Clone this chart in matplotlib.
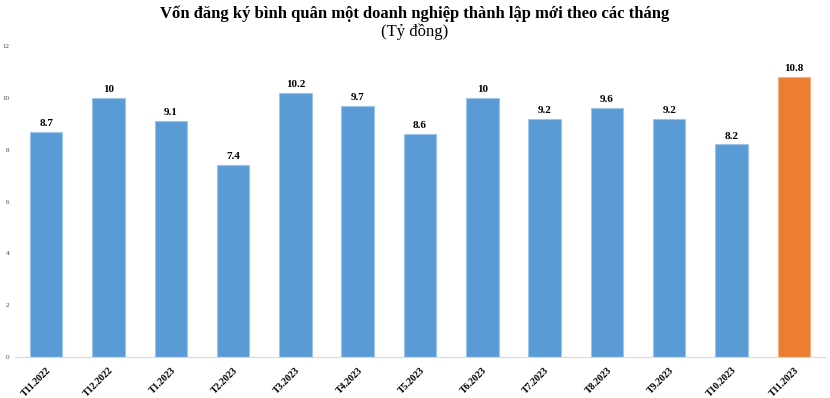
import matplotlib
matplotlib.use("Agg")
import matplotlib.pyplot as plt

categories = ["T11.2022", "T12.2022", "T1.2023", "T2.2023", "T3.2023", "T4.2023",
              "T5.2023", "T6.2023", "T7.2023", "T8.2023", "T9.2023", "T10.2023", "T11.2023"]
values = [8.7, 10, 9.1, 7.4, 10.2, 9.7, 8.6, 10, 9.2, 9.6, 9.2, 8.2, 10.8]
value_labels = ["8.7", "10", "9.1", "7.4", "10.2", "9.7", "8.6", "10", "9.2", "9.6", "9.2", "8.2", "10.8"]
yticks = [0, 2, 4, 6, 8, 10, 12]

plt.rcParams['font.family'] = ['Liberation Serif', 'DejaVu Serif']

fig = plt.figure(figsize=(8.3, 3.98), dpi=100)
ax = fig.add_axes([15/830, 1 - 357/398, 810/830, (357 - 46)/398])

colors = ["#5B9BD5"] * (len(values) - 1) + ["#ED7D31"]
edges = ["#9DC3E6"] * (len(values) - 1) + ["#F4B183"]
x = list(range(len(values)))
bars = ax.bar(x, values, width=0.52, color=colors, edgecolor=edges, linewidth=0.8, zorder=2)

for xi, v, lab in zip(x, values, value_labels):
    ax.text(xi, v + 0.15, lab, ha="center", va="bottom", fontsize=8, fontweight="bold", color="black")

ax.set_xlim(-0.5, 12.5)
ax.set_ylim(0, 12)
ax.set_yticks(yticks)
ax.set_yticklabels([str(t) for t in yticks], fontsize=5, color="#404040")
ax.set_xticks(x)
ax.set_xticklabels(categories, rotation=45, ha="right", rotation_mode="anchor",
                   fontsize=7, fontweight="bold")
ax.tick_params(axis="y", length=0, pad=4)
ax.tick_params(axis="x", length=0, pad=6)
for s in ["top", "right", "left"]:
    ax.spines[s].set_visible(False)
ax.spines["bottom"].set_color("#D9D9D9")
ax.spines["bottom"].set_linewidth(0.8)

fig.text(0.5, 1 - 14/398, "Vốn đăng ký bình quân một doanh nghiệp thành lập mới theo các tháng",
         ha="center", va="center", fontsize=12, fontweight="bold")
fig.text(0.5, 1 - 32/398, "(Tỷ đồng)", ha="center", va="center", fontsize=12)

fig.savefig("out.png", dpi=100, facecolor="white")
